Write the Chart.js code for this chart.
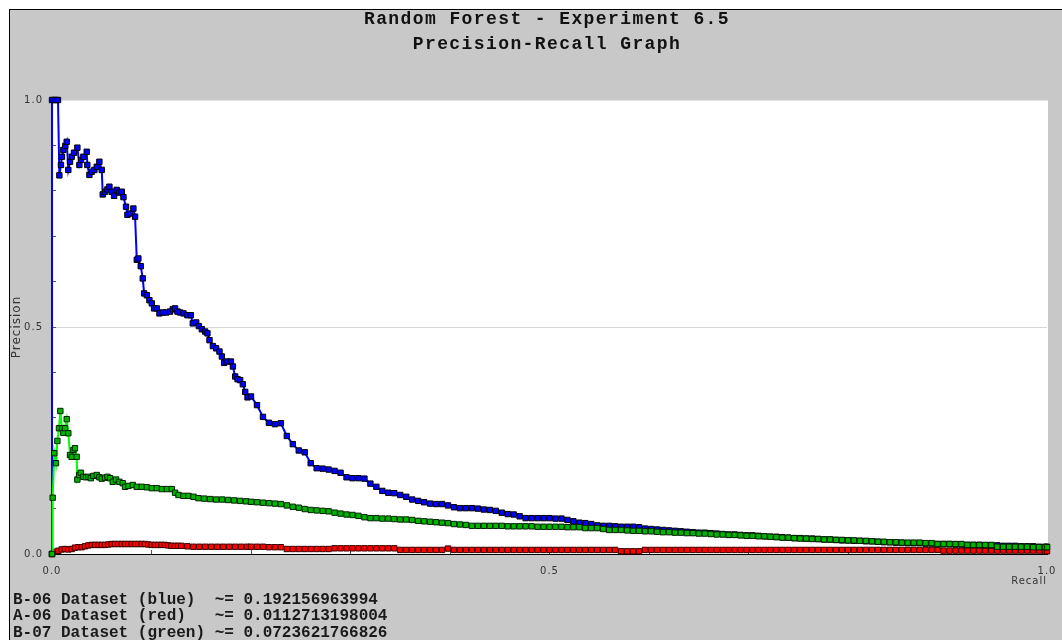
<!DOCTYPE html>
<html>
<head>
<meta charset="utf-8">
<title>Random Forest - Experiment 6.5</title>
<script src="https://cdn.jsdelivr.net/npm/chart.js@4.4.1/dist/chart.umd.min.js"></script>
<style>
  html, body { margin: 0; padding: 0; background: #fff; overflow: hidden; }
  #frame {
    position: absolute; left: 9px; top: 9px; width: 1100px; height: 700px;
    background: #c8c8c8; border-top: 1px solid #000; border-left: 1px solid #000;
  }
  #chart { position: absolute; left: 0; top: 0; }
  #title {
    position: absolute; left: 0; top: 7px; width: 1094px; text-align: center;
    font: bold 18px "Liberation Mono", monospace; line-height: 25px;
    letter-spacing: 1.4px; color: #111;
  }
  #scores {
    position: absolute; left: 13px; top: 592px; margin: 0;
    font: bold 16px "Liberation Mono", monospace; line-height: 16.4px;
    color: #1a1a1a; white-space: pre;
  }
</style>
</head>
<body>
<div id="frame"></div>
<canvas id="chart" width="1062" height="640"></canvas>
<div id="title">Random Forest - Experiment 6.5<br>Precision-Recall Graph</div>
<pre id="scores"></pre>

<script>
/* ================= DATA ================= */

const xTickValues = [0, 0.5, 1];
const xTickLabels = ["0.0", "0.5", "1.0"];
const yTickValues = [0, 0.5, 1];
const yTickLabels = ["0.0", "0.5", "1.0"];

const seriesNames = ["B-06 Dataset (blue)", "A-06 Dataset (red)", "B-07 Dataset (green)"];
const seriesScores = ["0.192156963994", "0.0112713198004", "0.0723621766826"];

// first part of each curve (recall < 0.2), read point by point
const blueHeadRecall = [
  0, 0, 0.002, 0.004, 0.006, 0.0074, 0.009, 0.010, 0.0114, 0.0134,
  0.0148, 0.0164, 0.0181, 0.0198, 0.0221, 0.0255, 0.0275, 0.0292, 0.0315, 0.0349,
  0.0355, 0.0376, 0.040, 0.0426, 0.045, 0.0476, 0.050, 0.051, 0.0533, 0.0557,
  0.0577, 0.060, 0.0624, 0.065, 0.0677, 0.0701, 0.0718, 0.0744, 0.0758, 0.0785,
  0.0818, 0.0835, 0.0852, 0.0868, 0.0892, 0.0912, 0.0926, 0.0953, 0.0979, 0.1003,
  0.1026, 0.1053, 0.108, 0.1113, 0.1147, 0.1187, 0.1214, 0.1237, 0.1261, 0.1288,
  0.1321, 0.1361, 0.1395, 0.1415, 0.1449, 0.1476, 0.1506, 0.1539, 0.1562, 0.1583,
  0.1617, 0.165, 0.1683, 0.1707, 0.173, 0.1757, 0.1798, 0.1818, 0.1841, 0.1865,
  0.1891, 0.1918, 0.1942, 0.1965
];
const blueHeadPrecision = [
  0, 1.0, 1.0, 1.0, 1.0, 0.834, 0.857, 0.875, 0.890, 0.899,
  0.908, 0.846, 0.864, 0.875, 0.884, 0.895, 0.857, 0.868, 0.875, 0.886,
  0.857, 0.835, 0.842, 0.846, 0.853, 0.864, 0.846, 0.792, 0.798, 0.803,
  0.809, 0.798, 0.789, 0.802, 0.796, 0.798, 0.786, 0.765, 0.747, 0.750,
  0.761, 0.743, 0.648, 0.651, 0.634, 0.607, 0.574, 0.570, 0.559, 0.552,
  0.541, 0.541, 0.530, 0.532, 0.532, 0.534, 0.539, 0.541, 0.534, 0.532,
  0.530, 0.526, 0.526, 0.508, 0.510, 0.502, 0.495, 0.490, 0.486, 0.471,
  0.458, 0.453, 0.446, 0.435, 0.421, 0.424, 0.424, 0.413, 0.391, 0.385,
  0.383, 0.374, 0.357, 0.345
];

const greenHeadRecall = [
  0, 0.0007, 0.0023, 0.004, 0.0054, 0.007, 0.0084, 0.010, 0.0114, 0.0131,
  0.0148, 0.0164, 0.0181, 0.0198, 0.0215, 0.0231, 0.0248, 0.0255, 0.0272, 0.0289,
  0.0315, 0.0342, 0.0366, 0.039, 0.0416, 0.045, 0.0476, 0.050, 0.0533, 0.0557,
  0.0584, 0.061, 0.0644, 0.0677, 0.0711, 0.0734, 0.0768, 0.0812, 0.0852, 0.0902,
  0.0953, 0.1003, 0.1053, 0.1104, 0.1154, 0.1204, 0.1237, 0.1271, 0.1321, 0.1371,
  0.1422, 0.1472, 0.153, 0.159, 0.165, 0.171, 0.177, 0.183, 0.189, 0.195
];
const greenHeadPrecision = [
  0, 0.124, 0.222, 0.200, 0.249, 0.277, 0.315, 0.277, 0.267, 0.277,
  0.297, 0.266, 0.218, 0.214, 0.229, 0.233, 0.214, 0.164, 0.174, 0.179,
  0.170, 0.169, 0.170, 0.167, 0.172, 0.174, 0.169, 0.166, 0.168, 0.170,
  0.167, 0.159, 0.164, 0.159, 0.156, 0.148, 0.150, 0.152, 0.148, 0.148,
  0.147, 0.145, 0.145, 0.143, 0.143, 0.143, 0.135, 0.130, 0.128, 0.128,
  0.126, 0.123, 0.122, 0.121, 0.120, 0.120, 0.119, 0.118, 0.117, 0.116
];

const redHeadRecall = [
  0, 0.003, 0.0064, 0.0097, 0.013, 0.0164, 0.0198, 0.0231, 0.0265, 0.0298,
  0.0332, 0.0366, 0.040, 0.0433, 0.0467, 0.050, 0.0533, 0.0567, 0.060, 0.0633,
  0.0667, 0.070, 0.0733, 0.0767, 0.080, 0.0833, 0.0867, 0.090, 0.0933, 0.0967,
  0.100, 0.1033, 0.1067, 0.110, 0.1133, 0.1167, 0.120, 0.1233, 0.1267, 0.130,
  0.136, 0.142, 0.148, 0.154, 0.160, 0.166, 0.172, 0.178, 0.184, 0.190,
  0.196
];
const redHeadPrecision = [
  0, 0.005, 0.007, 0.010, 0.011, 0.010, 0.011, 0.014, 0.015, 0.015,
  0.017, 0.019, 0.020, 0.020, 0.020, 0.020, 0.020, 0.021, 0.022, 0.022,
  0.022, 0.022, 0.022, 0.022, 0.022, 0.022, 0.022, 0.022, 0.022, 0.021,
  0.020, 0.020, 0.020, 0.020, 0.020, 0.019, 0.018, 0.018, 0.018, 0.018,
  0.017, 0.016, 0.016, 0.016, 0.016, 0.016, 0.016, 0.016, 0.016, 0.016,
  0.016
];

// second part (recall >= 0.2), all three curves read at the same recall values
const tailRecall = [
  0.200, 0.206, 0.212, 0.218, 0.224, 0.230, 0.236, 0.242, 0.248, 0.254,
  0.260, 0.266, 0.272, 0.278, 0.284, 0.290, 0.296, 0.302, 0.308, 0.314,
  0.320, 0.326, 0.332, 0.338, 0.344, 0.350, 0.356, 0.362, 0.368, 0.374,
  0.380, 0.386, 0.392, 0.398, 0.404, 0.410, 0.416, 0.422, 0.428, 0.434,
  0.440, 0.446, 0.452, 0.458, 0.464, 0.470, 0.476, 0.482, 0.488, 0.494,
  0.500, 0.506, 0.512, 0.518, 0.524, 0.530, 0.536, 0.542, 0.548, 0.554,
  0.560, 0.566, 0.572, 0.578, 0.584, 0.590, 0.596, 0.602, 0.608, 0.614,
  0.620, 0.626, 0.632, 0.638, 0.644, 0.650, 0.656, 0.662, 0.668, 0.674,
  0.680, 0.686, 0.692, 0.698, 0.704, 0.710, 0.716, 0.722, 0.728, 0.734,
  0.740, 0.746, 0.752, 0.758, 0.764, 0.770, 0.776, 0.782, 0.788, 0.794,
  0.800, 0.806, 0.812, 0.818, 0.824, 0.830, 0.836, 0.842, 0.848, 0.854,
  0.860, 0.866, 0.872, 0.878, 0.884, 0.890, 0.896, 0.902, 0.908, 0.914,
  0.920, 0.926, 0.932, 0.938, 0.944, 0.950, 0.956, 0.962, 0.968, 0.974,
  0.980, 0.986, 0.992, 0.998, 1.000
];
const blueTailPrecision = [
  0.347, 0.328, 0.302, 0.289, 0.286, 0.288, 0.260, 0.242, 0.228, 0.224,
  0.200, 0.189, 0.188, 0.186, 0.183, 0.179, 0.169, 0.167, 0.167, 0.166,
  0.155, 0.148, 0.139, 0.135, 0.134, 0.130, 0.126, 0.120, 0.117, 0.114,
  0.111, 0.110, 0.110, 0.107, 0.103, 0.101, 0.101, 0.101, 0.100, 0.098,
  0.097, 0.095, 0.091, 0.088, 0.087, 0.083, 0.079, 0.079, 0.079, 0.079,
  0.079, 0.078, 0.078, 0.075, 0.072, 0.069, 0.068, 0.066, 0.063, 0.062,
  0.062, 0.061, 0.060, 0.060, 0.060, 0.059, 0.056, 0.055, 0.054, 0.053,
  0.052, 0.051, 0.050, 0.049, 0.048, 0.047, 0.047, 0.046, 0.045, 0.044,
  0.043, 0.043, 0.042, 0.041, 0.041, 0.040, 0.039, 0.038, 0.038, 0.037,
  0.036, 0.035, 0.035, 0.034, 0.034, 0.033, 0.032, 0.032, 0.031, 0.030,
  0.030, 0.029, 0.029, 0.028, 0.028, 0.027, 0.026, 0.026, 0.025, 0.025,
  0.024, 0.024, 0.024, 0.023, 0.023, 0.022, 0.022, 0.022, 0.021, 0.021,
  0.020, 0.020, 0.020, 0.019, 0.019, 0.019, 0.018, 0.018, 0.018, 0.017,
  0.017, 0.017, 0.016, 0.016, 0.016
];
const greenTailPrecision = [
  0.115, 0.114, 0.113, 0.112, 0.111, 0.110, 0.107, 0.104, 0.102, 0.099,
  0.097, 0.096, 0.095, 0.094, 0.091, 0.089, 0.087, 0.086, 0.084, 0.081,
  0.079, 0.079, 0.078, 0.078, 0.077, 0.076, 0.076, 0.075, 0.073, 0.072,
  0.071, 0.070, 0.069, 0.068, 0.066, 0.065, 0.064, 0.062, 0.062, 0.062,
  0.062, 0.062, 0.062, 0.061, 0.061, 0.061, 0.061, 0.061, 0.060, 0.060,
  0.060, 0.060, 0.060, 0.059, 0.059, 0.059, 0.057, 0.057, 0.057, 0.055,
  0.053, 0.053, 0.053, 0.052, 0.051, 0.051, 0.050, 0.050, 0.049, 0.048,
  0.048, 0.047, 0.047, 0.046, 0.046, 0.045, 0.045, 0.044, 0.043, 0.043,
  0.042, 0.042, 0.041, 0.040, 0.040, 0.039, 0.039, 0.038, 0.037, 0.036,
  0.036, 0.035, 0.034, 0.034, 0.033, 0.033, 0.032, 0.032, 0.031, 0.031,
  0.030, 0.030, 0.029, 0.029, 0.028, 0.027, 0.027, 0.026, 0.026, 0.025,
  0.025, 0.025, 0.025, 0.024, 0.024, 0.022, 0.022, 0.022, 0.022, 0.022,
  0.020, 0.020, 0.020, 0.020, 0.020, 0.016, 0.016, 0.016, 0.016, 0.016,
  0.016, 0.015, 0.015, 0.015, 0.015
];
const redTailPrecision = [
  0.016, 0.016, 0.016, 0.015, 0.015, 0.015, 0.011, 0.011, 0.011, 0.011,
  0.011, 0.011, 0.011, 0.011, 0.0125, 0.0125, 0.0125, 0.0125, 0.0125, 0.0125,
  0.0125, 0.0125, 0.0125, 0.0125, 0.0125, 0.009, 0.009, 0.009, 0.009, 0.009,
  0.009, 0.009, 0.009, 0.012, 0.009, 0.009, 0.009, 0.009, 0.009, 0.009,
  0.009, 0.009, 0.009, 0.009, 0.009, 0.009, 0.009, 0.009, 0.009, 0.009,
  0.009, 0.009, 0.009, 0.009, 0.009, 0.009, 0.009, 0.009, 0.009, 0.009,
  0.009, 0.009, 0.006, 0.006, 0.006, 0.006, 0.009, 0.009, 0.009, 0.009,
  0.009, 0.009, 0.009, 0.009, 0.009, 0.009, 0.009, 0.009, 0.009, 0.009,
  0.009, 0.009, 0.009, 0.009, 0.009, 0.009, 0.009, 0.009, 0.009, 0.009,
  0.009, 0.009, 0.009, 0.009, 0.009, 0.009, 0.009, 0.009, 0.009, 0.009,
  0.009, 0.009, 0.009, 0.009, 0.009, 0.009, 0.009, 0.009, 0.009, 0.009,
  0.009, 0.009, 0.009, 0.009, 0.009, 0.009, 0.0075, 0.0075, 0.0075, 0.0075,
  0.0075, 0.0075, 0.0075, 0.0075, 0.0075, 0.0075, 0.0075, 0.0075, 0.0075, 0.0075,
  0.0075, 0.0075, 0.0075, 0.006, 0.006
];

/* ================= HELPERS ================= */

function pairs(recall, precision) {
  return recall.map((r, i) => ({ x: r, y: precision[i] }));
}

function tickText(value, values, labels) {
  const i = values.findIndex(v => Math.abs(v - value) < 1e-6);
  return i >= 0 ? labels[i] : "";
}

// scores block under the plot
document.getElementById("scores").textContent = seriesNames
  .map((name, i) => name.padEnd(21, " ") + "~= " + seriesScores[i])
  .join("\n");

// white plot area with a faint frame
const plotBackground = {
  id: "plotBackground",
  beforeDraw(chart) {
    const { ctx, chartArea: a } = chart;
    ctx.save();
    ctx.fillStyle = "#ffffff";
    ctx.fillRect(a.left, a.top, a.right - a.left + 1, a.bottom - a.top);
    ctx.strokeStyle = "#e2e2e2";
    ctx.lineWidth = 1;
    ctx.beginPath();
    ctx.moveTo(a.left, a.top + 0.5);
    ctx.lineTo(a.right + 1, a.top + 0.5);
    ctx.stroke();
    ctx.restore();
    ctx.letterSpacing = "1px";
  }
};

/* ================= CHART ================= */

const labelFont = { family: "DejaVu Sans", size: 10 };

new Chart(document.getElementById("chart"), {
  type: "scatter",
  data: {
    datasets: [
      {
        label: seriesNames[0],
        data: pairs(blueHeadRecall, blueHeadPrecision).concat(pairs(tailRecall, blueTailPrecision)),
        showLine: true,
        borderColor: "#0000ff",
        borderWidth: 2,
        pointStyle: "rect",
        pointRadius: 3.8,
        pointBackgroundColor: "#0000ff",
        pointBorderColor: "#000000",
        pointBorderWidth: 1,
        clip: 8,
        order: 1
      },
      {
        label: seriesNames[1],
        data: pairs(redHeadRecall, redHeadPrecision).concat(pairs(tailRecall, redTailPrecision)),
        showLine: true,
        borderColor: "#ff0000",
        borderWidth: 2,
        pointStyle: "rect",
        pointRadius: 3.8,
        pointBackgroundColor: "#ff0000",
        pointBorderColor: "#3a0000",
        pointBorderWidth: 1,
        clip: 8,
        order: 2
      },
      {
        label: seriesNames[2],
        data: pairs(greenHeadRecall, greenHeadPrecision).concat(pairs(tailRecall, greenTailPrecision)),
        showLine: true,
        borderColor: "#00ff00",
        borderWidth: 2,
        pointStyle: "rect",
        pointRadius: 3.8,
        pointBackgroundColor: "#00b400",
        pointBorderColor: "#002000",
        pointBorderWidth: 1,
        clip: 8,
        order: 0
      }
    ]
  },
  options: {
    responsive: false,
    animation: false,
    events: [],
    layout: { padding: { left: 9, top: 100, right: 15, bottom: 46 } },
    plugins: {
      legend: { display: false },
      tooltip: { enabled: false }
    },
    scales: {
      x: {
        type: "linear",
        position: "bottom",
        min: 0,
        max: 1,
        afterFit: scale => { scale.height = 40; },
        ticks: {
          stepSize: 0.1,
          autoSkip: false,
          maxRotation: 0,
          padding: 0,
          color: "#333",
          // tall line box pushes the labels below the inner tick marks
          font: { family: "DejaVu Sans", size: 10, lineHeight: "42px" },
          callback: v => tickText(v, xTickValues, xTickLabels)
        },
        grid: { drawOnChartArea: false, drawTicks: true, tickLength: -4, tickColor: "#555" },
        border: { display: true, color: "#000", width: 1 },
        title: {
          display: true,
          text: "Recall",
          align: "end",
          color: "#333",
          font: labelFont,
          padding: { top: 0, bottom: 7 }
        }
      },
      y: {
        type: "linear",
        min: 0,
        max: 1,
        afterFit: scale => { scale.width = 43; },
        ticks: {
          stepSize: 0.1,
          padding: 13,
          color: "#333",
          font: labelFont,
          callback: v => tickText(v, yTickValues, yTickLabels)
        },
        grid: {
          color: ctx => (ctx.tick && Math.abs(ctx.tick.value - 0.5) < 1e-6 ? "#d6d6d6" : "rgba(0,0,0,0)"),
          drawTicks: true,
          tickLength: -4,
          tickColor: "#555"
        },
        border: { display: true, color: "#000", width: 1 },
        title: {
          display: true,
          text: "Precision",
          color: "#333",
          font: { family: "DejaVu Sans", size: 12 },
          padding: { top: 1, bottom: 0 }
        }
      }
    }
  },
  plugins: [plotBackground]
});
</script>
</body>
</html>
